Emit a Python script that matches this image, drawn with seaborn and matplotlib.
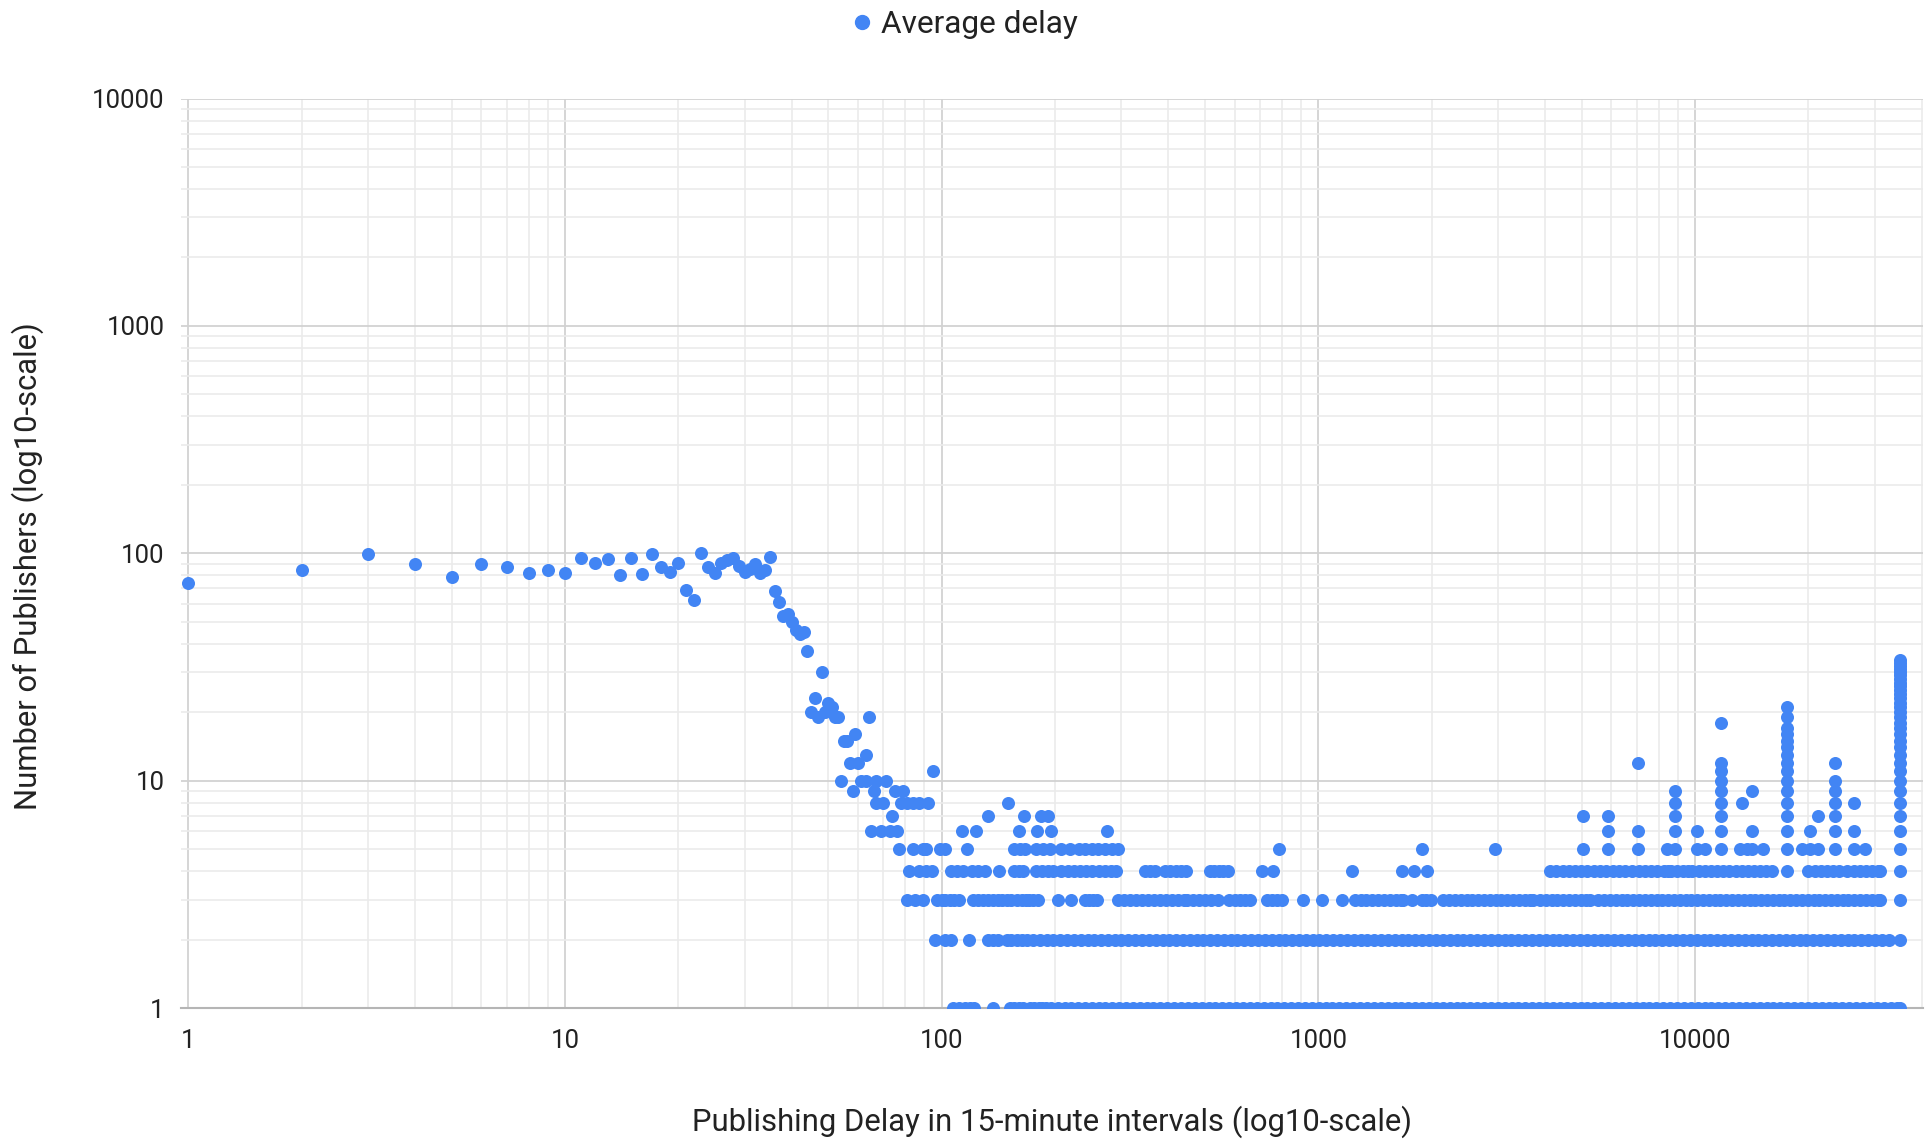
import numpy as np
import pandas as pd
import matplotlib
matplotlib.use("Agg")
import matplotlib.pyplot as plt
from matplotlib.ticker import LogLocator, FuncFormatter, NullFormatter
from matplotlib.lines import Line2D
import seaborn as sns

# ---------------- data ----------------
# plateau and drop region: one point per delay
early_delay = [1, 2, 3, 4, 5, 6, 7, 8, 9, 10, 11, 12, 13, 14, 15, 16, 17, 18, 19, 20,
               21, 22, 23, 24, 25, 26, 27, 28, 29, 30, 31, 32, 33, 34, 35, 36, 37, 38, 39, 40,
               41, 42, 43, 44, 45, 46, 47, 48, 49, 50, 51, 52, 53, 55, 56, 59, 57, 60, 63, 64, 95]
early_publishers = [74, 84, 99, 90, 79, 90, 87, 82, 84, 82, 95, 91, 94, 80, 95, 81, 99, 87, 83, 91,
                    69, 62, 100, 87, 82, 91, 93, 95, 88, 83, 85, 90, 82, 84, 96, 68, 61, 53, 54, 50,
                    46, 44, 45, 37, 20, 23, 19, 30, 20, 22, 21, 19, 19, 15, 15, 16, 12, 12, 13, 19, 11]

# delays seen with exactly N publishers
delays_pub1 = [107, 111, 115, 119, 122, 137, 152, 156, 160, 164, 172, 176, 181, 185, 189,
               195, 203, 212, 221, 230, 240, 250, 261, 272, 284, 296, 309, 322, 336, 350, 365,
               381, 397, 414, 432, 451, 470, 490, 511, 533, 556, 580, 605, 631, 658, 686, 716,
               747, 779, 812, 847, 883, 921, 961, 1002, 1045, 1090, 1137, 1186, 1237, 1290,
               1346, 1404, 1464, 1527, 1593, 1661, 1733, 1807, 1885, 1966, 2051, 2139, 2231,
               2327, 2427, 2531, 2640, 2754, 2872, 2996, 3125, 3259, 3399, 3546, 3698, 3857,
               4023, 4196, 4377, 4565, 4762, 4967, 5180, 5403, 5636, 5878, 6131, 6395, 6670,
               6957, 7257, 7569, 7894, 8234, 8588, 8958, 9343, 9745, 10164, 10601, 11057,
               11533, 12029, 12546, 13086, 13649, 14236, 14848, 15487, 16153, 16848, 17572,
               18328, 19116, 19938, 20796, 21690, 22623, 23596, 24611, 25669, 26773, 27924,
               29125, 30377, 31684, 33046, 34467, 35040]
delays_pub2 = [96, 102, 106, 118, 133, 137, 141, 149, 153, 158, 163, 168, 175, 182, 190, 198,
               206, 215, 224, 234, 244, 254, 265, 276, 288, 300, 313, 326, 340, 355, 370, 386,
               402, 419, 437, 456, 475, 495, 516, 538, 561, 585, 610, 636, 663, 691, 721, 752,
               784, 817, 852, 888, 926, 966, 1007, 1050, 1095, 1142, 1191, 1242, 1295, 1350,
               1408, 1468, 1531, 1596, 1664, 1735, 1809, 1887, 1968, 2052, 2140, 2232, 2327,
               2427, 2531, 2639, 2752, 2870, 2993, 3121, 3255, 3394, 3539, 3691, 3849, 4014,
               4186, 4365, 4552, 4747, 4950, 5162, 5383, 5614, 5855, 6106, 6367, 6640, 6925,
               7221, 7531, 7853, 8190, 8541, 8907, 9288, 9686, 10101, 10534, 10985, 11456,
               11947, 12459, 12993, 13549, 14130, 14735, 15366, 16025, 16711, 17427, 18174,
               18953, 19765, 20612, 21495, 22416, 23376, 24378, 25422, 26512, 27648, 28832,
               30068, 31356, 32700, 35040]
delays_pub3 = [81, 85, 89, 97, 100, 102, 105, 108, 111, 121, 125, 129, 133, 137, 141, 145, 149,
               153, 158, 163, 167, 171, 175, 180, 204, 221, 240, 246, 252, 258, 293, 305, 316,
               328, 340, 353, 366, 380, 394, 409, 424, 440, 447, 465, 482, 500, 519, 540, 580,
               600, 620, 640, 660, 730, 752, 775, 800, 912, 1020, 1153, 1250, 1295, 1342, 1391,
               1441, 1493, 1547, 1603, 1660, 1680, 1770, 1880, 1935, 1990, 2146, 2224, 2304,
               2387, 2474, 2563, 2656, 2752, 2851, 2954, 3061, 3172, 3287, 3406, 3529, 3657,
               3720, 3875, 4015, 4160, 4311, 4467, 4628, 4796, 4969, 5149, 5260, 5540, 5740,
               5948, 6163, 6386, 6617, 6856, 7104, 7361, 7628, 7904, 8190, 8486, 8793, 9112,
               9441, 9783, 10137, 10504, 10884, 11278, 11686, 12109, 12547, 13001, 13471,
               13959, 14464, 14987, 15530, 16092, 16674, 17277, 17903, 18551, 19222, 19918,
               20639, 21386, 22160, 22962, 23793, 24654, 25546, 26470, 27428, 28421, 29450,
               30516, 30900, 35040]
delays_pub4 = [82, 87, 91, 94, 106, 110, 114, 120, 125, 130, 142, 156, 160, 164, 178, 185, 191,
               198, 208, 216, 224, 233, 242, 251, 261, 271, 281, 290, 347, 357, 368, 392, 405,
               418, 432, 446, 516, 530, 545, 560, 575, 707, 759, 1225, 1664, 1790, 1940, 4120,
               4280, 4450, 4620, 4800, 4990, 5180, 5380, 5590, 5810, 6040, 6270, 6500, 6820,
               7080, 7360, 7640, 7940, 8250, 8460, 8650, 8980, 9300, 9600, 9840, 10220, 10610,
               11020, 11440, 11880, 12340, 12810, 13300, 13810, 14340, 14890, 15460, 16050,
               17520, 20000, 20770, 21560, 22390, 23250, 24100, 25400, 26370, 27380, 28430,
               29520, 30650, 31000, 35040]
delays_pub5 = [77, 84, 89, 91, 99, 102, 117, 156, 161, 166, 178, 186, 194, 208, 219, 231, 240,
               250, 260, 271, 283, 294, 787, 1880, 2950, 5050, 5890, 7070, 8405, 8850, 10100,
               10620, 11700, 13150, 13700, 14130, 15180, 17520, 19180, 20190, 21240, 23500,
               26400, 28240, 35040]
delays_pub6 = [65, 69, 73, 76, 113, 123, 160, 179, 195, 274, 5890, 7070, 8850, 10100, 11700,
               14130, 17520, 20190, 23500, 26400, 35040]
delays_pub7 = [74, 133, 165, 183, 191, 5050, 5890, 8850, 11700, 17520, 21240, 23500, 35040]
delays_pub8 = [67, 70, 78, 81, 84, 87, 92, 150, 8850, 11700, 13300, 17520, 23500, 26400, 35040]
delays_pub9 = [58, 66, 75, 79, 8850, 11700, 14130, 17520, 23500, 35040]
delays_pub10 = [54, 61, 63, 67, 71, 11700, 17520, 23500, 35040]

# tall columns above 10 publishers
col_delays = [7070, 11700, 11700, 11700, 23500]
col_publishers = [12, 11, 12, 18, 12]
col17520_publishers = [11, 12, 13, 14, 15, 16, 17, 19, 21]
col35040_publishers = [11, 12, 13, 14, 15, 16, 17, 18, 19, 20, 21, 22, 23, 24, 25, 26, 27,
                       28, 29, 30, 31, 32, 33, 34]

# ---------------- assemble ----------------
xs, ys = list(early_delay), list(early_publishers)
levels = [delays_pub1, delays_pub2, delays_pub3, delays_pub4, delays_pub5,
          delays_pub6, delays_pub7, delays_pub8, delays_pub9, delays_pub10]
for n, lst in enumerate(levels, start=1):
    xs += lst
    ys += [n] * len(lst)
xs += col_delays
ys += col_publishers
xs += [17520] * len(col17520_publishers)
ys += col17520_publishers
xs += [35040] * len(col35040_publishers)
ys += col35040_publishers
df = pd.DataFrame({"delay": xs, "publishers": ys})

# ---------------- plot ----------------
sns.set_theme(style="white")
plt.rcParams['font.family'] = ['Roboto', 'DejaVu Sans']

W, H = 1930, 1139
fig = plt.figure(figsize=(W / 100, H / 100), dpi=100)
left, right, top, bottom = 181, 1923, 98.5, 1008
ax = fig.add_axes([left / W, 1 - bottom / H, (right - left) / W, (bottom - top) / H])

BLUE = "#4285F4"
sns.scatterplot(data=df, x="delay", y="publishers", ax=ax, color=BLUE, s=88,
                linewidth=0, legend=False, zorder=3)
ax.set_xscale("log")
ax.set_yscale("log")
ax.set_xlim(0.956, 40300)
ax.set_ylim(1, 10000)

for axis in (ax.xaxis, ax.yaxis):
    axis.set_major_locator(LogLocator(base=10, numticks=12))
    axis.set_minor_locator(LogLocator(base=10, subs=np.arange(2, 10), numticks=12))
    axis.set_major_formatter(FuncFormatter(lambda v, p: f"{v:g}"))
    axis.set_minor_formatter(NullFormatter())

ax.grid(which="major", color="#d2d2d2", linewidth=1.3)
ax.grid(which="minor", color="#ebebeb", linewidth=1.2)
ax.set_axisbelow(True)
ax.tick_params(which="both", length=0, labelsize=18.5, colors="#222222")
ax.tick_params(axis="x", pad=15)
ax.tick_params(axis="y", pad=12)
for s in ("top", "right", "left"):
    ax.spines[s].set_visible(False)
ax.spines["bottom"].set_color("#b5b5b5")
ax.spines["bottom"].set_linewidth(1.5)

ax.set_xlabel("Publishing Delay in 15-minute intervals (log10-scale)", fontsize=22.3, color="#222222")
ax.set_ylabel("Number of Publishers (log10-scale)", fontsize=22.3, color="#222222")
ax.xaxis.set_label_coords(0.5, -0.107)
ax.yaxis.set_label_coords(-0.0785, 0.486)

handle = Line2D([], [], marker="o", linestyle="", color=BLUE, markersize=10)
fig.legend([handle], ["Average delay"], loc="center", bbox_to_anchor=(0.4985, 0.9787),
           frameon=False, fontsize=22.8, handletextpad=0.1, handlelength=1.0,
           labelcolor="#222222")

fig.savefig("out.png", dpi=100)
